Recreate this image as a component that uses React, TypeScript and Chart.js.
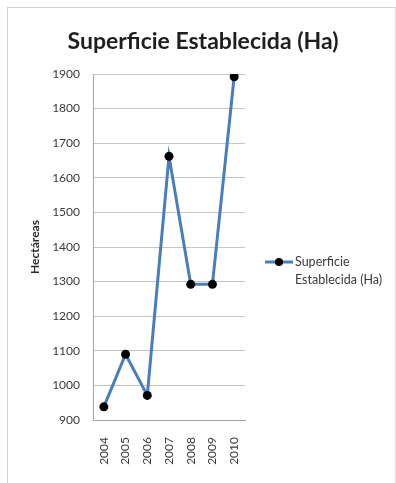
import { useEffect, useRef } from 'react';
import { Chart, registerables } from 'chart.js';

Chart.register(...registerables);

// Data
const years = ['2004', '2005', '2006', '2007', '2008', '2009', '2010'];
const superficie = [938, 1090, 971, 1662, 1292, 1292, 1892];
const yMin = 900;
const yMax = 1900;
const yStep = 100;

// Texts
const chartTitle = 'Superficie Establecida (Ha)';
const yAxisTitle = 'Hectáreas';
const seriesLabel = 'Superficie Establecida (Ha)';
const legendLines = ['Superficie', 'Establecida (Ha)'];

const FONT = 'Lato, "Open Sans", sans-serif';
const LINE_BLUE = '#4A7EBB';

// Draws the chart title and the single-entry legend on the right
const decorations = {
  id: 'decorations',
  afterDraw(chart: any) {
    const { ctx, chartArea } = chart;
    ctx.save();

    ctx.fillStyle = '#1e1e1e';
    ctx.font = `bold 23px ${FONT}`;
    ctx.textAlign = 'center';
    ctx.textBaseline = 'middle';
    ctx.fillText(chartTitle, 203, 42);

    const ds = chart.data.datasets[0];
    const lx = chartArea.right + 20;
    const ly = (chartArea.top + chartArea.bottom) / 2 + 15;
    ctx.strokeStyle = ds.borderColor;
    ctx.lineWidth = 3;
    ctx.beginPath();
    ctx.moveTo(lx, ly);
    ctx.lineTo(lx + 28, ly);
    ctx.stroke();
    ctx.fillStyle = '#000';
    ctx.beginPath();
    ctx.arc(lx + 14, ly, 4, 0, Math.PI * 2);
    ctx.fill();

    ctx.fillStyle = '#3a3a3a';
    ctx.font = `12.5px ${FONT}`;
    ctx.textAlign = 'left';
    ctx.textBaseline = 'middle';
    legendLines.forEach((line, i) => {
      ctx.fillText(line, lx + 30, ly + i * 18);
    });
    ctx.restore();
  },
};

export default function App() {
  const canvasRef = useRef<HTMLCanvasElement | null>(null);

  useEffect(() => {
    const canvas = canvasRef.current;
    if (!canvas) return;
    const chart = new Chart(canvas, {
      type: 'line',
      data: {
        labels: years,
        datasets: [
          {
            label: seriesLabel,
            data: superficie,
            borderColor: LINE_BLUE,
            backgroundColor: LINE_BLUE,
            borderWidth: 3,
            tension: 0,
            pointRadius: 4.5,
            pointBackgroundColor: '#000',
            pointBorderColor: '#000',
            pointBorderWidth: 0,
          },
        ],
      },
      options: {
        responsive: false,
        animation: false,
        devicePixelRatio: 1,
        layout: { padding: { top: 74, right: 151, left: 0, bottom: 0 } },
        plugins: {
          legend: { display: false },
          title: { display: false },
          tooltip: { enabled: false },
        },
        scales: {
          x: {
            offset: true,
            grid: { display: false, drawTicks: false },
            border: { display: true, color: '#a6a6a6', width: 1 },
            ticks: {
              minRotation: 90,
              maxRotation: 90,
              padding: 17,
              color: '#3a3a3a',
              font: { family: FONT, size: 12 },
            },
            afterFit(scale: any) {
              scale.height = 63;
            },
          },
          y: {
            min: yMin,
            max: yMax,
            ticks: {
              stepSize: yStep,
              padding: 13,
              color: '#3a3a3a',
              font: { family: FONT, size: 12 },
              callback: (value: any) => String(value),
            },
            grid: { color: '#c4c4c4', lineWidth: 1, drawTicks: false },
            border: { display: true, color: '#a6a6a6', width: 1 },
            title: {
              display: true,
              text: yAxisTitle,
              color: '#2a2a2a',
              font: { family: FONT, size: 12, weight: 'bold' },
              padding: { top: 28, bottom: 0 },
            },
            afterFit(scale: any) {
              scale.width = 93;
            },
          },
        },
      },
      plugins: [decorations],
    });
    return () => chart.destroy();
  }, []);

  return (
    <div style={{ position: 'absolute', left: 0, top: 0, width: 396, height: 483, background: '#fff', overflow: 'hidden' }}>
      <div
        style={{
          position: 'absolute',
          left: 7,
          top: 7,
          width: 387,
          height: 490,
          borderLeft: '1px solid #d0d0d0',
          borderTop: '1px solid #d0d0d0',
          borderRight: '1px solid #e0e0e0',
        }}
      />
      <canvas ref={canvasRef} width={396} height={483} style={{ position: 'absolute', left: 0, top: 0 }} />
    </div>
  );
}
